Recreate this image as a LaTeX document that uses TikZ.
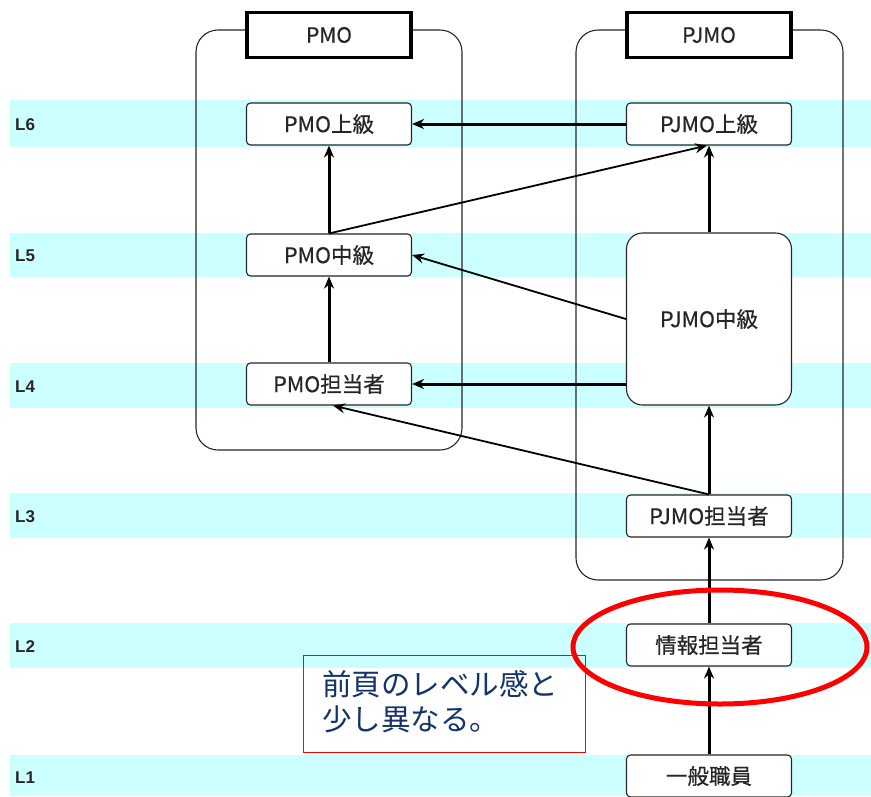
\documentclass[tikz,border=0pt]{standalone}
\usepackage{fontspec}
\setmainfont{Noto Sans CJK JP}
\newfontfamily\latfont{Liberation Sans}
\newfontfamily\boxfont[FakeBold=0.5]{Noto Sans CJK JP}
\usetikzlibrary{arrows.meta}
\definecolor{bandc}{HTML}{CCFFFF}
\definecolor{notec}{HTML}{12336B}
\begin{document}
\begin{tikzpicture}[x=1pt,y=-1pt,
  band/.style={fill=bandc,draw=none},
  lvl/.style={anchor=west,inner sep=0pt,font=\latfont\bfseries\fontsize{17}{19}\selectfont,text=black!85},
  cont/.style={draw=black!85,line width=1.1pt,rounded corners=22pt},
  ttl/.style={draw=black,line width=3.8pt,fill=white,minimum width=164pt,minimum height=45pt,inner sep=0pt,font=\boxfont\fontsize{21}{24}\selectfont,text=black!85},
  box/.style={draw=black!85,fill=white,rounded corners=4pt,line width=1.1pt,minimum width=165pt,minimum height=42pt,inner sep=0pt,font=\boxfont\fontsize{21.5}{24}\selectfont,text=black!85},
  thk/.style={line width=3pt,-{Stealth[length=12pt,width=10pt]}},
  thn/.style={line width=1.8pt,-{Stealth[length=12pt,width=10pt]}}
]
\useasboundingbox (0,0) rectangle (871,796);
% bands
\fill[band] (10,100) rectangle (871,147);
\fill[band] (10,233) rectangle (871,277);
\fill[band] (10,363) rectangle (871,408);
\fill[band] (10,493) rectangle (871,538);
\fill[band] (10,623) rectangle (871,668);
\fill[band] (10,755) rectangle (871,796);
\node[lvl] (l6) at (15,125) {L6};
\node[lvl] (l5) at (15,256) {L5};
\node[lvl] (l4) at (15,387) {L4};
\node[lvl] (l3) at (15,517) {L3};
\node[lvl] (l2) at (15,647) {L2};
\node[lvl] (l1) at (15,778) {L1};
% containers
\draw[cont] (196,30) rectangle (462,450);
\draw[cont] (576,30) rectangle (843,580);
\node[ttl] (pmo) at (329,35) {PMO};
\node[ttl] (pjmo) at (709,35) {PJMO};
% boxes
\node[box] (pmo6) at (329,124) {PMO上級};
\node[box] (pjmo6) at (709,124) {PJMO上級};
\node[box] (pmo5) at (329,255) {PMO中級};
\node[box] (pmo4) at (329,384) {PMO担当者};
\node[box,minimum height=172pt,rounded corners=16pt] (pjmo5) at (709,319) {PJMO中級};
\node[box] (pjmo3) at (709,516) {PJMO担当者};
\node[box] (info) at (709,645) {情報担当者};
\node[box] (ippan) at (709,776) {一般職員};
% arrows
\draw[thk] (pjmo6) -- (pmo6);
\draw[thk] (pmo5) -- (pmo6);
\draw[thn] (pmo5.north) -- ([xshift=-2pt]pjmo6.south);
\draw[thk] (pjmo5) -- (pjmo6);
\draw[thn] (pjmo5.west) -- (pmo5.east);
\draw[thk] (pmo4) -- (pmo5);
\draw[thk] (pjmo5.west |- pmo4) -- (pmo4);
\draw[thn] (pjmo3.north) -- ([xshift=4pt]pmo4.south);
\draw[thk] (pjmo3) -- (pjmo5);
\draw[thk] (info) -- (pjmo3);
\draw[thk] (ippan) -- (info);
% note
\draw[red,line width=0.9pt] (303,655) rectangle (585,752);
\node[anchor=north west,inner sep=0pt,align=left,text=notec,font=\fontsize{29.5}{35}\selectfont] (note) at (322,670) {前頁のレベル感と\\少し異なる。};
% ellipse
\draw[red,line width=5pt] (720,647) ellipse (147 and 57);
\end{tikzpicture}
\end{document}
